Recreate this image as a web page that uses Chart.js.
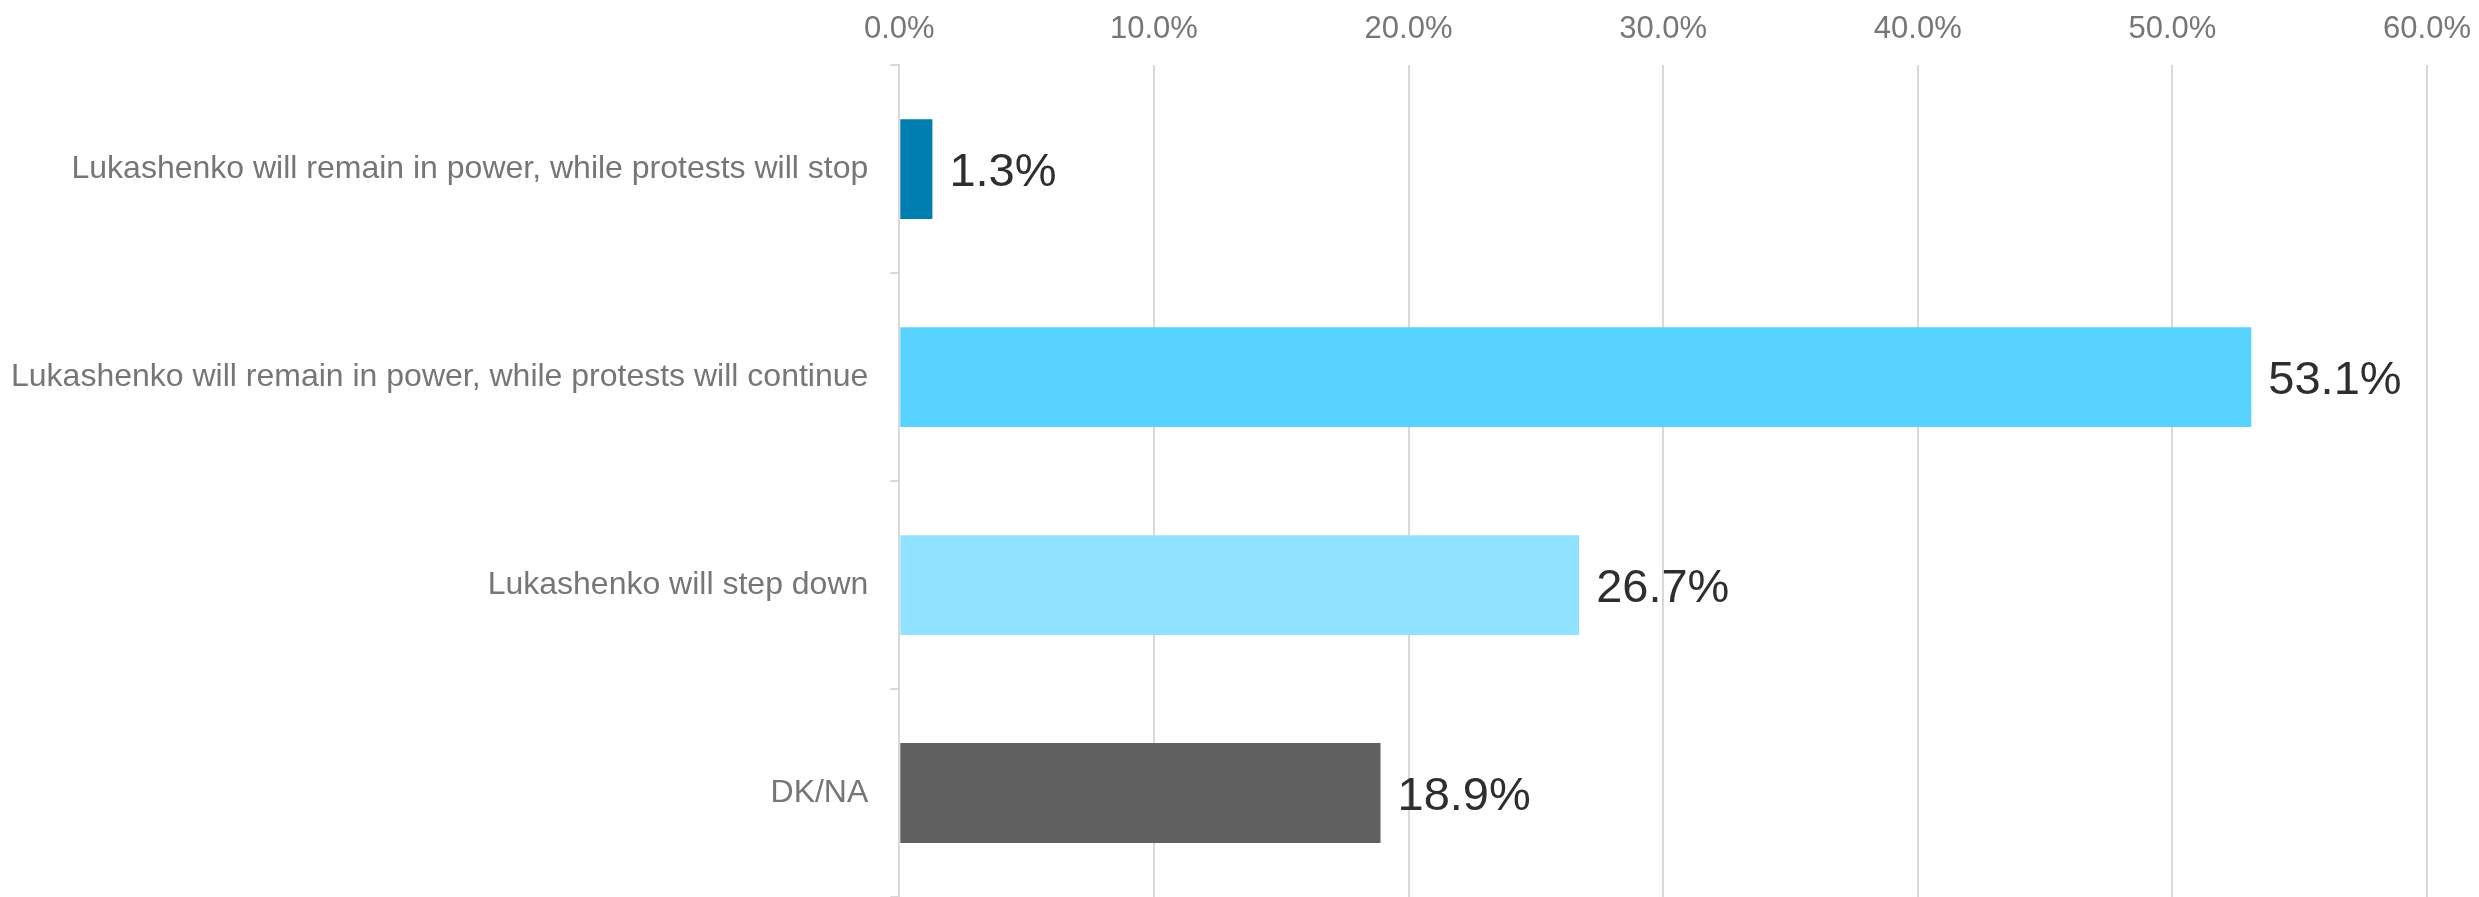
<!DOCTYPE html>
<html>
<head>
<meta charset="utf-8">
<script src="https://cdn.jsdelivr.net/npm/chart.js@4"></script>
<style>
  body { margin: 0; background: #fff; }
</style>
</head>
<body>
<canvas id="myChart" width="2479" height="897"></canvas>
<script>
const ctx = document.getElementById('myChart');

// data
const categories = [
    'Lukashenko will remain in power, while protests will stop',
    'Lukashenko will remain in power, while protests will continue',
    'Lukashenko will step down',
    'DK/NA'
];
const shares = [1.3, 53.1, 26.7, 18.9];
const barColors = ['#007eb0', '#58d2fe', '#91e2ff', '#616161'];
const tickValues = [0, 10, 20, 30, 40, 50, 60];

// draw the value next to each bar
const valueLabels = {
    id: 'valueLabels',
    afterDatasetsDraw(chart) {
        const c = chart.ctx;
        const meta = chart.getDatasetMeta(0);
        c.save();
        c.font = '47px "Liberation Sans", Arial, sans-serif';
        c.fillStyle = '#2e2e2e';
        c.textBaseline = 'middle';
        c.textAlign = 'left';
        meta.data.forEach((bar, i) => {
            c.fillText(shares[i].toFixed(1) + '%', bar.x + 17, bar.y + 4);
        });
        c.restore();
    }
};

const chart = new Chart(ctx, {
    type: 'bar',
    data: {
        labels: categories,
        datasets: [{
            data: shares,
            backgroundColor: barColors,
            borderWidth: 0,
            barPercentage: 0.48,
            categoryPercentage: 1
        }]
    },
    options: {
        indexAxis: 'y',
        responsive: false,
        animation: false,
        devicePixelRatio: 1,
        layout: {
            padding: { top: 11, left: 11, right: 0, bottom: 0 }
        },
        plugins: {
            legend: { display: false },
            tooltip: { enabled: false }
        },
        scales: {
            x: {
                position: 'top',
                min: 0,
                max: 60,
                afterBuildTicks(scale) {
                    scale.ticks = tickValues.map(v => ({ value: v }));
                },
                // chart.js counts the tick padding twice; take one back
                afterFit(scale) {
                    scale.height -= 17;
                    scale.paddingLeft = 0;
                    scale.paddingRight = 52;
                },
                grid: {
                    color: '#d9d9d9',
                    lineWidth: 2,
                    drawTicks: false
                },
                border: { display: false },
                ticks: {
                    padding: 17,
                    color: '#767676',
                    font: { family: '"Liberation Sans", Arial, sans-serif', size: 31 },
                    callback: v => v.toFixed(1) + '%'
                }
            },
            y: {
                afterFit(scale) {
                    scale.width -= 22;
                    scale.paddingTop = 0;
                    scale.paddingBottom = 0;
                },
                grid: {
                    offset: true,
                    drawOnChartArea: false,
                    color: '#d9d9d9',
                    lineWidth: 2,
                    tickLength: 9
                },
                border: { color: '#d9d9d9', width: 2 },
                ticks: {
                    padding: 22,
                    color: '#767676',
                    font: { family: '"Liberation Sans", Arial, sans-serif', size: 32 }
                }
            }
        }
    },
    plugins: [valueLabels]
});
</script>
</body>
</html>
